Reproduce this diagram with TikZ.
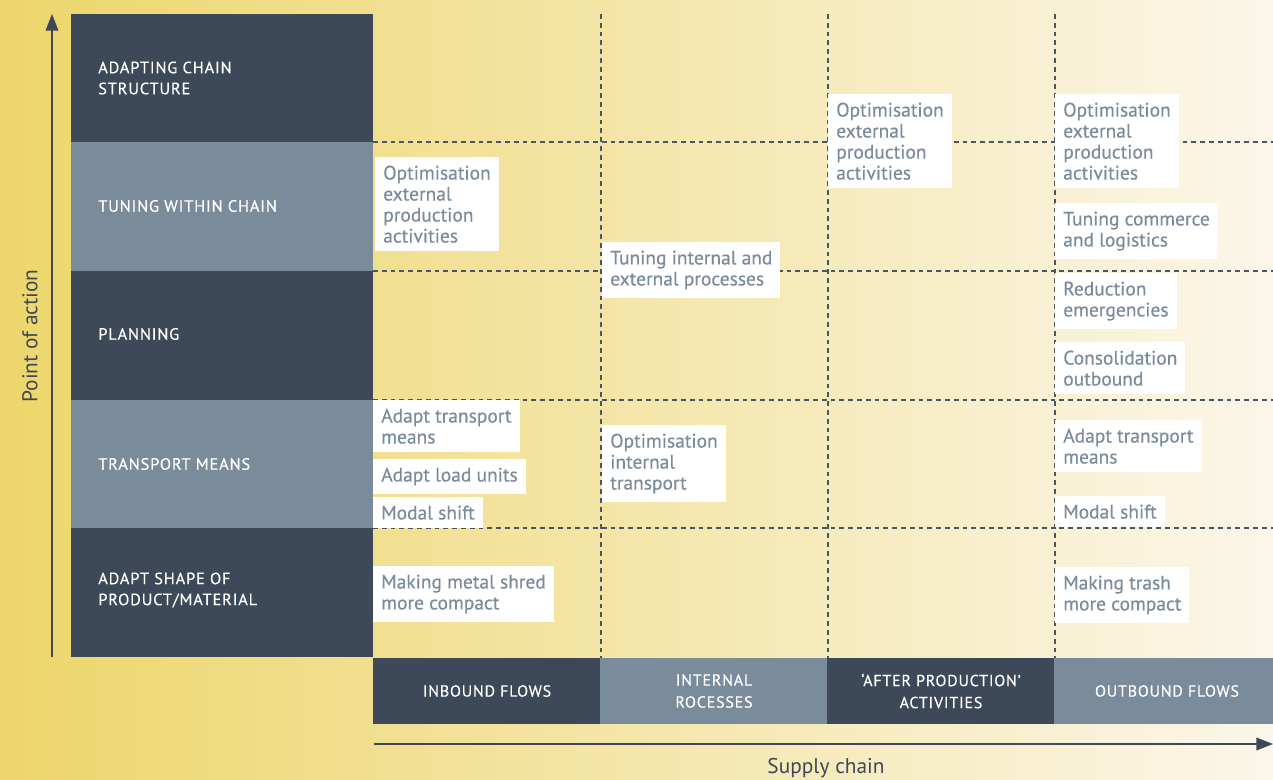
\documentclass[tikz,border=0pt]{standalone}
\usepackage{fontspec}
\setmainfont{PT Sans}
\newfontfamily\itemfont[FakeBold=0.35]{PT Sans}
\newfontfamily\capsfont[LetterSpace=5,FakeBold=0.35]{PT Sans}
\usetikzlibrary{arrows.meta}
\definecolor{darkc}{HTML}{3D4858}
\definecolor{slatec}{HTML}{7A8C9B}
\definecolor{txtc}{HTML}{7A8B9C}
\definecolor{bgL}{HTML}{EDD66B}
\definecolor{bgR}{HTML}{FBF6E9}
\definecolor{gridc}{HTML}{4B5564}
\tikzset{
  rowlab/.style={text=white, anchor=west, align=left, inner sep=0pt,
    font=\capsfont\fontsize{12.3}{15.75}\selectfont},
  collab/.style={text=white, align=center, inner sep=0pt,
    font=\capsfont\fontsize{12}{16.5}\selectfont},
  item/.style={fill=white, text=txtc, anchor=north west, align=left,
    inner xsep=6pt, inner ysep=6.3pt, font=\itemfont\fontsize{14.6}{15.75}\selectfont},
  gridline/.style={draw=gridc, dash pattern=on 3.6pt off 3pt, line width=0.9pt},
  axis/.style={draw=darkc, line width=1.1pt, -{Triangle[length=12.5pt,width=9.5pt]}},
  axlab/.style={text=darkc, inner sep=0pt, font=\fontsize{16}{19}\selectfont},
}
\begin{document}
\begin{tikzpicture}[x=0.75pt,y=-0.75pt]
\shade[left color=bgL, right color=bgR] (0,0) rectangle (1273,780);
\useasboundingbox (0,0) rectangle (1273,780);

% grid
\foreach \yy in {142,271,400,528} \draw[gridline] (373,\yy) -- (1273,\yy);
\foreach \xx in {601,828,1055} \draw[gridline] (\xx,14) -- (\xx,658);

% row blocks
\fill[darkc]  (71,14)  rectangle (373,142);
\fill[slatec] (71,142) rectangle (373,271);
\fill[darkc]  (71,271) rectangle (373,400);
\fill[slatec] (71,400) rectangle (373,528);
\fill[darkc]  (71,528) rectangle (373,657);
\node[rowlab] (r1) at (98,78)  {ADAPTING CHAIN\\STRUCTURE};
\node[rowlab] (r2) at (98,206) {TUNING WITHIN CHAIN};
\node[rowlab] (r3) at (98,334) {PLANNING};
\node[rowlab] (r4) at (98,464) {TRANSPORT MEANS};
\node[rowlab] (r5) at (98,590) {ADAPT SHAPE OF\\PRODUCT/MATERIAL};

% column blocks
\fill[darkc]  (373,658) rectangle (600,724);
\fill[slatec] (600,658) rectangle (827,724);
\fill[darkc]  (827,658) rectangle (1054,724);
\fill[slatec] (1054,658) rectangle (1273,724);
\node[collab] (c1) at (487,691)  {INBOUND FLOWS};
\node[collab] (c2) at (714,691)  {INTERNAL\\ROCESSES};
\node[collab] (c3) at (941,691)  {‘AFTER PRODUCTION’\\ACTIVITIES};
\node[collab] (c4) at (1167,691) {OUTBOUND FLOWS};

% items
\node[item] (i1)  at (375,157)  {Optimisation\\external\\production\\activities};
\node[item] (i2)  at (602,242)  {Tuning internal and\\external processes};
\node[item] (i3)  at (828,94)   {Optimisation\\external\\production\\activities};
\node[item] (i4)  at (1055,94)  {Optimisation\\external\\production\\activities};
\node[item] (i5)  at (1055,203) {Tuning commerce\\and logistics};
\node[item] (i6)  at (1055,273) {Reduction\\emergencies};
\node[item] (i7)  at (1055,342) {Consolidation\\outbound};
\node[item] (i8)  at (373,400)  {Adapt transport\\means};
\node[item] (i9)  at (373,459)  {Adapt load units};
\node[item] (i10) at (373,497)  {Modal shift};
\node[item] (i11) at (602,425)  {Optimisation\\internal\\transport};
\node[item] (i12) at (373,566)  {Making metal shred\\more compact};
\node[item] (i13) at (1055,420) {Adapt transport\\means};
\node[item] (i14) at (1055,496) {Modal shift};
\node[item] (i15) at (1055,567) {Making trash\\more compact};

% axes
\coordinate (ya) at (52,657);
\coordinate (yb) at (52,14);
\coordinate (xa) at (374,744);
\coordinate (xb) at (1273,744);
\draw[axis] (ya) -- (yb);
\draw[axis] (xa) -- (xb);
\node[axlab, rotate=90] (py) at (30,336) {Point of action};
\node[axlab] (px) at (826,768) {Supply chain};
\end{tikzpicture}
\end{document}
